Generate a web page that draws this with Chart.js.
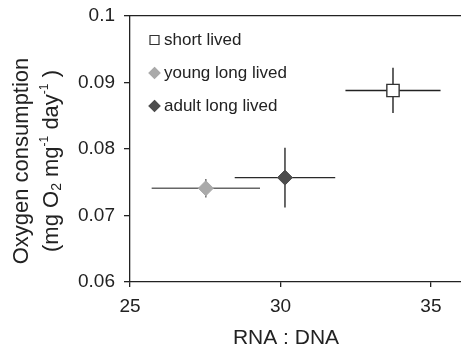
<!DOCTYPE html>
<html>
<head>
<meta charset="utf-8">
<script src="https://cdn.jsdelivr.net/npm/chart.js@4.4.1/dist/chart.umd.min.js"></script>
<style>
  html, body { margin: 0; padding: 0; background: #fff; }
</style>
</head>
<body>
<canvas id="o2Chart" width="461" height="349"></canvas>
<script>
// Oxygen consumption vs RNA:DNA, group means with error bars

const groups = ['short lived', 'young long lived', 'adult long lived'];
const rnaDna = [33.74, 27.52, 30.15];
const rnaDnaErr = [1.58, 1.80, 1.67];
const oxygen = [0.0888, 0.0741, 0.0757];
const oxygenErr = [0.0034, 0.0014, 0.0045];
const xTicks = [25, 30, 35];
const yTicks = [0.06, 0.07, 0.08, 0.09, 0.1];

const FONT = "'Liberation Sans', Arial, sans-serif";
const INK = '#222';

const markerStyles = [
    { pointStyle: 'rect', radius: 8.7, fill: '#fff', border: '#333', borderWidth: 1.4, err: '#222' },
    { pointStyle: 'rectRot', radius: 7.5, fill: '#aaaaaa', border: '#aaaaaa', borderWidth: 1, err: '#666' },
    { pointStyle: 'rectRot', radius: 7.5, fill: '#4d4d4d', border: '#4d4d4d', borderWidth: 1, err: '#2a2a2a' }
];

const datasets = groups.map((name, i) => ({
    label: name,
    data: [{ x: rnaDna[i], y: oxygen[i], xErr: rnaDnaErr[i], yErr: oxygenErr[i] }],
    pointStyle: markerStyles[i].pointStyle,
    pointRadius: markerStyles[i].radius,
    backgroundColor: markerStyles[i].fill,
    borderColor: markerStyles[i].border,
    borderWidth: markerStyles[i].borderWidth,
    errColor: markerStyles[i].err
}));

const errorBars = {
    id: 'errorBars',
    beforeDatasetsDraw(chart) {
        const { ctx, scales: { x, y } } = chart;
        chart.data.datasets.forEach(ds => {
            ds.data.forEach(p => {
                const cx = x.getPixelForValue(p.x);
                const cy = y.getPixelForValue(p.y);
                ctx.save();
                ctx.strokeStyle = ds.errColor;
                ctx.lineWidth = 1.4;
                ctx.beginPath();
                ctx.moveTo(x.getPixelForValue(p.x - p.xErr), cy);
                ctx.lineTo(x.getPixelForValue(p.x + p.xErr), cy);
                ctx.moveTo(cx, y.getPixelForValue(p.y - p.yErr));
                ctx.lineTo(cx, y.getPixelForValue(p.y + p.yErr));
                ctx.stroke();
                ctx.restore();
            });
        });
    }
};

function drawMarker(ctx, style, size, cx, cy) {
    ctx.beginPath();
    if (style.pointStyle === 'rect') {
        ctx.rect(cx - size / 2, cy - size / 2, size, size);
    } else {
        const h = size / 2 + 1;
        ctx.moveTo(cx, cy - h);
        ctx.lineTo(cx + h, cy);
        ctx.lineTo(cx, cy + h);
        ctx.lineTo(cx - h, cy);
        ctx.closePath();
    }
    ctx.fillStyle = style.fill;
    ctx.fill();
    ctx.lineWidth = 1.2;
    ctx.strokeStyle = style.border;
    ctx.stroke();
}

// legend sits inside the plot, top left
const insideLegend = {
    id: 'insideLegend',
    afterDraw(chart) {
        const ctx = chart.ctx;
        const left = chart.chartArea.left;
        const top = chart.chartArea.top;
        ctx.save();
        chart.data.datasets.forEach((ds, i) => {
            const cy = top + 24 + i * 33;
            drawMarker(ctx, markerStyles[i], 9, left + 24.5, cy);
            ctx.fillStyle = INK;
            ctx.font = '17px ' + FONT;
            ctx.textBaseline = 'middle';
            ctx.textAlign = 'left';
            ctx.fillText(ds.label, left + 34, cy);
        });
        ctx.restore();
    }
};

// axis titles: x title off-centre, y title two lines with sub/superscripts
const axisTitles = {
    id: 'axisTitles',
    afterDraw(chart) {
        const ctx = chart.ctx;
        const midY = 161;
        ctx.save();
        ctx.fillStyle = INK;

        ctx.font = '21px ' + FONT;
        ctx.textAlign = 'center';
        ctx.textBaseline = 'alphabetic';
        ctx.fillText('RNA : DNA', 286, 344);

        ctx.textAlign = 'left';
        ctx.save();
        ctx.translate(28, midY);
        ctx.rotate(-Math.PI / 2);
        ctx.font = '22px ' + FONT;
        const line1 = 'Oxygen consumption';
        ctx.fillText(line1, -ctx.measureText(line1).width / 2, 0);
        ctx.restore();

        const parts = [
            { t: '(mg O', size: 22, dy: 0 },
            { t: '2', size: 14, dy: 3 },
            { t: ' mg', size: 22, dy: 0 },
            { t: '-1', size: 12, dy: -10 },
            { t: ' day', size: 22, dy: 0 },
            { t: '-1', size: 12, dy: -10 },
            { t: ' )', size: 22, dy: 0 }
        ];
        let total = 0;
        parts.forEach(p => {
            ctx.font = p.size + 'px ' + FONT;
            p.w = ctx.measureText(p.t).width;
            total += p.w;
        });
        ctx.save();
        ctx.translate(58, midY);
        ctx.rotate(-Math.PI / 2);
        let px = -total / 2;
        parts.forEach(p => {
            ctx.font = p.size + 'px ' + FONT;
            ctx.fillText(p.t, px, p.dy);
            px += p.w;
        });
        ctx.restore();
        ctx.restore();
    }
};

// keep the plot box fixed: no label overhang padding
function noPad(s) {
    s.paddingLeft = 0;
    s.paddingRight = 0;
    s.paddingTop = 0;
    s.paddingBottom = 0;
}

new Chart(document.getElementById('o2Chart').getContext('2d'), {
    type: 'scatter',
    data: { datasets: datasets },
    options: {
        responsive: false,
        animation: false,
        layout: { autoPadding: false, padding: { top: 16, right: 0, bottom: 0, left: 0 } },
        plugins: {
            legend: { display: false },
            tooltip: { enabled: false }
        },
        scales: {
            x: {
                type: 'linear',
                min: 25,
                max: 36,
                afterBuildTicks: s => { s.ticks = xTicks.map(v => ({ value: v })); },
                afterFit: s => { s.height = 67; noPad(s); },
                grid: { drawOnChartArea: false, tickLength: 5, color: INK, lineWidth: 1.3 },
                border: { color: INK, width: 1.3 },
                ticks: { color: INK, font: { size: 19, family: FONT }, padding: 8, maxRotation: 0 }
            },
            y: {
                type: 'linear',
                min: 0.06,
                max: 0.1,
                afterBuildTicks: s => { s.ticks = yTicks.map(v => ({ value: v })); },
                afterFit: s => { s.width = 130; noPad(s); },
                grid: { drawOnChartArea: false, tickLength: 6, color: INK, lineWidth: 1.3 },
                border: { color: INK, width: 1.3 },
                ticks: {
                    color: INK,
                    font: { size: 19, family: FONT },
                    padding: 9,
                    callback: v => String(+v.toFixed(2))
                }
            },
            x2: {
                type: 'linear',
                position: 'top',
                min: 25,
                max: 36,
                afterFit: s => { s.height = 0; noPad(s); },
                ticks: { display: false },
                grid: { display: false, drawTicks: false },
                border: { display: true, color: INK, width: 1.3 }
            }
        }
    },
    plugins: [errorBars, insideLegend, axisTitles]
});
</script>
</body>
</html>
